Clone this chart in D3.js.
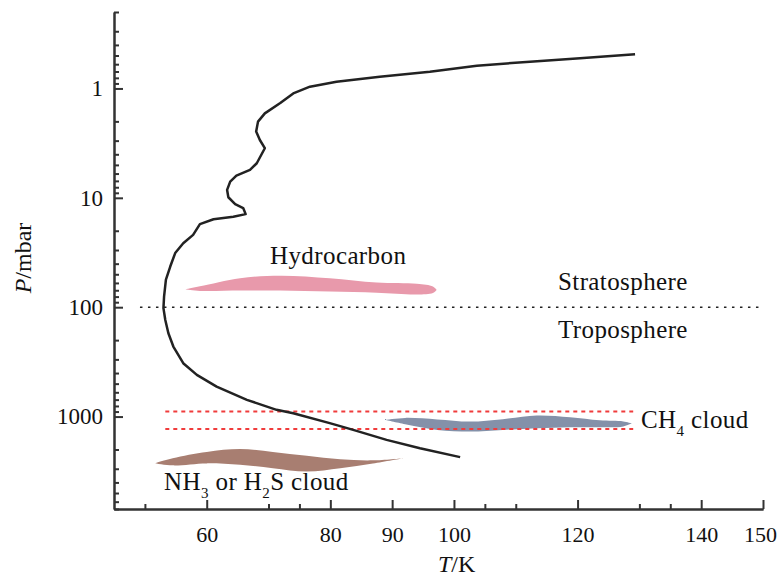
<!DOCTYPE html>
<html>
<head>
<meta charset="utf-8">
<script src="https://d3js.org/d3.v7.min.js"></script>
<style>
  body { margin: 0; background: #fff; }
  svg text { font-family: "Liberation Serif", "DejaVu Serif", serif; fill: #111; }
</style>
</head>
<body>
<div id="chart"></div>
<script>
// temperature profile (T in K, P in mbar), bottom to top
const profileT = [101.0, 94.5, 89.1, 83.7, 79.9, 74.0, 71.3, 66.5, 61.6, 58.4, 56.2, 54.6, 53.8, 53.3, 53.0, 53.1, 53.4, 54.1, 54.9, 56.2, 57.8, 58.9, 61.1, 64.3, 66.3, 65.9, 64.6, 63.5, 63.3, 63.8, 64.8, 67.0, 68.1, 69.4, 68.6, 68.0, 68.3, 69.4, 71.9, 74.0, 76.7, 81.0, 88.0, 96.1, 103.7, 112.3, 120.4, 129.3];
const profileP = [2350, 1945, 1633, 1324, 1148, 931, 868, 703, 532, 416, 325, 229, 173, 131, 102, 80, 56, 42.5, 32, 26, 21.8, 17.4, 15.7, 14.9, 14.1, 12.4, 11.4, 9.88, 8.47, 7.11, 6.27, 5.56, 4.83, 3.52, 2.96, 2.48, 2.01, 1.69, 1.36, 1.11, 0.963, 0.867, 0.780, 0.702, 0.619, 0.569, 0.530, 0.487];

// cloud / haze layers: T, upper and lower pressure edge
const hydroT = [56.5, 58.9, 65.4, 71.9, 79.9, 87.5, 94.0, 96.6, 97.2];
const hydroTop = [68.7, 64.5, 54.3, 51.5, 54.3, 59.6, 61.2, 64.8, 69.5];
const hydroBot = [68.7, 71.0, 70.5, 70.5, 72.0, 73.6, 76.4, 74.0, 69.5];

const ch4T = [88.8, 92.1, 97.3, 102.6, 107.9, 113.4, 118.8, 123.6, 127.4, 128.8];
const ch4Top = [1072, 1028, 1061, 1111, 1056, 979, 1016, 1083, 1107, 1153];
const ch4Bot = [1072, 1177, 1324, 1371, 1324, 1276, 1250, 1250, 1230, 1153];

const nh3T = [51.6, 54.5, 60.0, 65.4, 70.7, 76.2, 81.6, 86.9, 91.8];
const nh3Top = [2667, 2399, 2103, 1982, 2103, 2286, 2461, 2513, 2399];
const nh3Bot = [2667, 2793, 2679, 2762, 2963, 3184, 2963, 2679, 2399];

// reference lines
const tropopauseP = 100;
const tropopauseT = [49.2, 150];
const ch4LevelsP = [900, 1300];
const ch4LevelsT = [53.3, 129];

// ticks
const xMajor = [60, 80, 90, 100, 120, 140, 150];
const xMinor = [50, 70, 75, 105, 110, 130, 135];
const yMajor = [1, 10, 100, 1000];
const yMinor = [0.2, 0.3, 0.4, 0.5, 0.6, 0.7, 0.8, 0.9, 2, 3, 4, 5, 6, 7, 8, 9,
  20, 30, 40, 50, 60, 70, 80, 90, 200, 300, 400, 500, 600, 700, 800, 900,
  2000, 3000, 4000, 5000, 6000, 7000];

const W = 779, H = 577;
const svg = d3.select("#chart").append("svg")
  .attr("width", W).attr("height", H);

const x = d3.scaleLinear().domain([45, 150]).range([114, 763]);
const y = d3.scaleLog().domain([0.2, 7000]).range([12, 509]);

const area = d3.area()
  .x(d => x(d.t)).y0(d => y(d.top)).y1(d => y(d.bot))
  .curve(d3.curveCatmullRom.alpha(0.5));

function layer(ts, tops, bots, color) {
  const data = ts.map((t, i) => ({ t: t, top: tops[i], bot: bots[i] }));
  svg.append("path").datum(data).attr("d", area).attr("fill", color);
}
layer(hydroT, hydroTop, hydroBot, "#e899ab");
layer(ch4T, ch4Top, ch4Bot, "#8491a9");
layer(nh3T, nh3Top, nh3Bot, "#a87e71");

// tropopause line
svg.append("line")
  .attr("x1", x(tropopauseT[0])).attr("x2", x(tropopauseT[1]))
  .attr("y1", y(tropopauseP)).attr("y2", y(tropopauseP))
  .attr("stroke", "#222").attr("stroke-width", 1.6)
  .attr("stroke-dasharray", "2.5,5.5");

// CH4 cloud bounds
ch4LevelsP.forEach(p => {
  svg.append("line")
    .attr("x1", x(ch4LevelsT[0])).attr("x2", x(ch4LevelsT[1]))
    .attr("y1", y(p)).attr("y2", y(p))
    .attr("stroke", "#f03c3c").attr("stroke-width", 2)
    .attr("stroke-dasharray", "4,4");
});

// T-P profile
const line = d3.line().x(d => x(d[0])).y(d => y(d[1]));
svg.append("path")
  .datum(profileT.map((t, i) => [t, profileP[i]]))
  .attr("d", line)
  .attr("fill", "none").attr("stroke", "#222").attr("stroke-width", 2.5)
  .attr("stroke-linejoin", "round");

// axes
function styleAxis(size) {
  return g => {
    g.select(".domain").attr("stroke", "#333").attr("stroke-width", 2);
    g.selectAll(".tick line").attr("stroke", "#333").attr("stroke-width", 2);
    g.selectAll(".tick text").attr("font-size", size).attr("fill", "#111")
      .style("font-family", "'Liberation Serif', serif");
  };
}

svg.append("g").attr("transform", `translate(0,${509})`)
  .call(d3.axisBottom(x).tickValues(xMinor).tickSize(-5).tickSizeOuter(0).tickFormat(""))
  .call(styleAxis(22));
const xAxis = svg.append("g").attr("transform", `translate(0,${509})`)
  .call(d3.axisBottom(x).tickValues(xMajor).tickSize(-9).tickSizeOuter(0).tickPadding(17).tickFormat(d3.format("d")))
  .call(styleAxis(22));
// keep the last label inside the page
xAxis.selectAll(".tick text").filter(d => d === 150).attr("dx", -3);

svg.append("g").attr("transform", `translate(${114},0)`)
  .call(d3.axisLeft(y).tickValues(yMinor).tickSize(-5).tickSizeOuter(0).tickFormat(""))
  .call(styleAxis(23));
svg.append("g").attr("transform", `translate(${114},0)`)
  .call(d3.axisLeft(y).tickValues(yMajor).tickSize(-9).tickSizeOuter(0).tickPadding(11).tickFormat(d3.format("d")))
  .call(styleAxis(23));

// axis titles
const xt = svg.append("text").attr("x", 438).attr("y", 572).attr("font-size", 24);
xt.append("tspan").attr("font-style", "italic").text("T");
xt.append("tspan").text("/K");

const yt = svg.append("text").attr("transform", "translate(31,258) rotate(-90)")
  .attr("text-anchor", "middle").attr("font-size", 24);
yt.append("tspan").attr("font-style", "italic").text("P");
yt.append("tspan").text("/mbar");

// annotations
const fs = 25;
function note(xp, yp) {
  return svg.append("text").attr("x", xp).attr("y", yp)
    .attr("font-size", fs).attr("letter-spacing", 0.4);
}
note(270, 264).text("Hydrocarbon");
note(558, 290).text("Stratosphere");
note(558, 338).text("Troposphere");

const ch4 = note(641, 428);
ch4.append("tspan").text("CH");
ch4.append("tspan").attr("font-size", 15).attr("dy", 8).text("4");
ch4.append("tspan").attr("dy", -8).text(" cloud");

const nh3 = note(164, 490);
nh3.append("tspan").text("NH");
nh3.append("tspan").attr("font-size", 15).attr("dy", 8).text("3");
nh3.append("tspan").attr("dy", -8).text(" or H");
nh3.append("tspan").attr("font-size", 15).attr("dy", 8).text("2");
nh3.append("tspan").attr("dy", -8).text("S cloud");
</script>
</body>
</html>
